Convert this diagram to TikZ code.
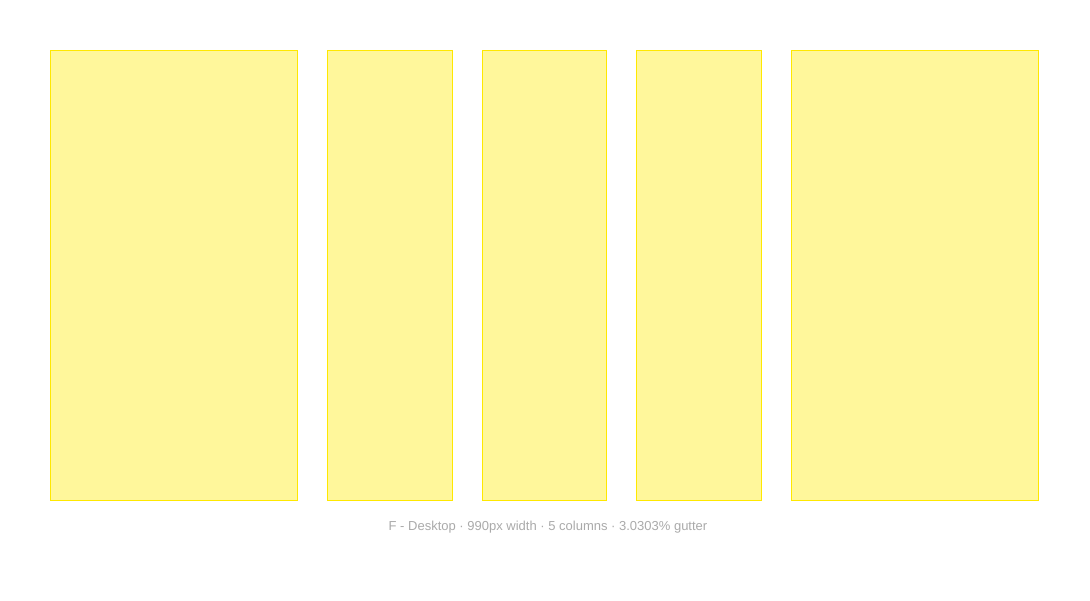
\documentclass[tikz,border=0pt]{standalone}
\usepackage{fontspec}
\setmainfont{Liberation Sans}
\definecolor{GRFill}{HTML}{FFF79B}
\definecolor{GRLine}{HTML}{FFE800}
\definecolor{GRText}{HTML}{AAAAAA}
\begin{document}
\begin{tikzpicture}[x=1pt,y=-1pt]
\path[use as bounding box] (0,0) rectangle (1090,600);
\fill[white] (0,0) rectangle (1090,600);
\foreach \xa/\xb in {50.5/297.5,327.5/452.5,482.5/606.5,636.5/761.5,791.5/1038.5}
  \draw[GRLine,fill=GRFill,line width=1pt] (\xa,50.5) rectangle (\xb,500.5);
\node[text=GRText,font=\fontsize{13}{15}\selectfont,inner sep=0pt] (caption) at (548,527.5) {F - Desktop · 990px width · 5 columns · 3.0303\% gutter};
\end{tikzpicture}
\end{document}
